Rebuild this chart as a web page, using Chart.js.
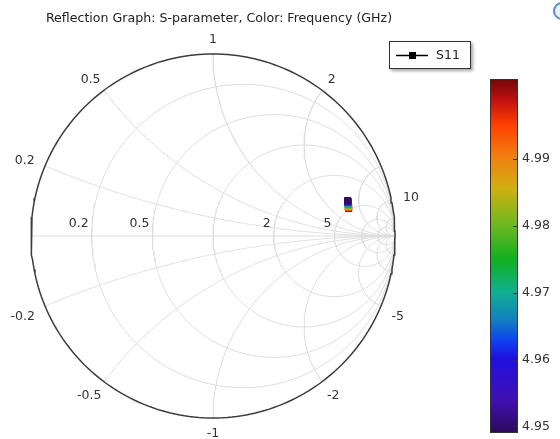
<!DOCTYPE html>
<html>
<head>
<meta charset="utf-8">
<script src="https://cdn.jsdelivr.net/npm/chart.js@4.4.0/dist/chart.umd.min.js"></script>
<style>
  html, body { margin: 0; padding: 0; background: #fff; }
  #wrap { position: relative; width: 560px; height: 439px; }
</style>
</head>
<body>
<div id="wrap"><canvas id="smith" width="560" height="439"></canvas></div>
<script>
// DATA
const frequencies = [4.95, 4.955, 4.96, 4.965, 4.97, 4.975, 4.98, 4.985, 4.99, 4.995, 5.0];
const s11Real = [0.740, 0.741, 0.741, 0.742, 0.742, 0.743, 0.743, 0.744, 0.744, 0.744, 0.745];
const s11Imag = [0.194, 0.191, 0.187, 0.184, 0.179, 0.175, 0.170, 0.166, 0.161, 0.157, 0.152];
const resistanceGrid = [0.2, 0.5, 1, 2, 5, 10, 20];
const reactanceGrid = [0.2, 0.5, 1, 2, 5, 10, 20];
const resistanceLabels = [0.2, 0.5, 2, 5];
const reactanceLabels = [0.2, 0.5, 1, 2, 10, -0.2, -0.5, -1, -2, -5];
const colorTicks = [4.95, 4.96, 4.97, 4.98, 4.99];
const colorRange = [4.949, 5.002];

const FONT = '"DejaVu Sans", "Liberation Sans", sans-serif';
const GRID_COLOR = '#dddddd';

// rainbow colormap, bottom (0) to top (1)
const rainbowStops = [
    [0.00, [42, 10, 90]],
    [0.09, [64, 16, 176]],
    [0.21, [32, 16, 224]],
    [0.26, [16, 64, 240]],
    [0.32, [16, 128, 192]],
    [0.40, [16, 176, 144]],
    [0.49, [16, 176, 32]],
    [0.59, [112, 184, 32]],
    [0.69, [208, 176, 16]],
    [0.78, [240, 128, 16]],
    [0.87, [255, 64, 0]],
    [0.94, [192, 16, 16]],
    [1.00, [112, 8, 8]]
];

function rainbow(t) {
    t = Math.max(0, Math.min(1, t));
    for (let i = 1; i < rainbowStops.length; i++) {
        const [t1, c1] = rainbowStops[i];
        const [t0, c0] = rainbowStops[i - 1];
        if (t <= t1) {
            const k = (t - t0) / (t1 - t0);
            const c = c0.map((v, j) => Math.round(v + (c1[j] - v) * k));
            return `rgb(${c[0]},${c[1]},${c[2]})`;
        }
    }
    return 'rgb(112,8,8)';
}

function freqColor(f) {
    return rainbow((f - colorRange[0]) / (colorRange[1] - colorRange[0]));
}

// Smith chart grid geometry
function gammaOf(r, x) {
    const d = (r + 1) * (r + 1) + x * x;
    return { x: (r * r - 1 + x * x) / d, y: (2 * x) / d };
}

function resistanceCircle(r) {
    const c = r / (1 + r), rad = 1 / (1 + r);
    const pts = [];
    for (let k = 0; k <= 240; k++) {
        const a = 2 * Math.PI * k / 240;
        pts.push({ x: c + rad * Math.cos(a), y: rad * Math.sin(a) });
    }
    return pts;
}

function reactanceArc(x) {
    const pts = [];
    for (let k = 0; k <= 300; k++) {
        const th = (Math.PI / 2) * k / 300;
        if (k === 300) { pts.push({ x: 1, y: 0 }); break; }
        pts.push(gammaOf(Math.tan(th), x));
    }
    return pts;
}

function gridSet(data, color, width, order) {
    return {
        data: data, showLine: true, borderColor: color, borderWidth: width,
        pointRadius: 0, fill: false, order: order, clip: false, tension: 0
    };
}

// S11 points, highest frequency first so the low-frequency markers end up on top
const s11Order = frequencies.map((f, i) => i).reverse();
const s11Colors = s11Order.map(i => freqColor(frequencies[i]));

const datasets = [{
    label: 'S11',
    data: s11Order.map(i => ({ x: s11Real[i], y: s11Imag[i] })),
    showLine: true,
    borderWidth: 1,
    segment: { borderColor: ctx => s11Colors[ctx.p0DataIndex] },
    pointStyle: 'rect',
    pointRadius: 4.5,
    pointBorderWidth: 1,
    pointBackgroundColor: s11Colors,
    pointBorderColor: s11Colors,
    order: 0,
    clip: false
}];

resistanceGrid.forEach(r => datasets.push(gridSet(resistanceCircle(r), GRID_COLOR, 1, 5)));
reactanceGrid.forEach(x => {
    datasets.push(gridSet(reactanceArc(x), GRID_COLOR, 1, 5));
    datasets.push(gridSet(reactanceArc(-x), GRID_COLOR, 1, 5));
});
datasets.push(gridSet([{ x: -1, y: 0 }, { x: 1, y: 0 }], GRID_COLOR, 1, 5));
datasets.push(gridSet(resistanceCircle(0), '#3c3c3c', 1.5, 1));

// Decorations: title, grid labels, legend, colour bar
const decorPlugin = {
    id: 'decor',
    afterDatasetsDraw(chart) {
        const ctx = chart.ctx;
        const sx = chart.scales.x, sy = chart.scales.y;
        ctx.save();

        // title
        ctx.fillStyle = '#222';
        ctx.font = '12.6px ' + FONT;
        ctx.textAlign = 'center';
        ctx.textBaseline = 'middle';
        ctx.fillText('Reflection Graph: S-parameter, Color: Frequency (GHz)', 219, 19);

        ctx.font = '12.5px ' + FONT;
        ctx.fillStyle = '#333';

        // resistance labels on the real axis
        ctx.textAlign = 'right';
        resistanceLabels.forEach(r => {
            const px = sx.getPixelForValue((r - 1) / (r + 1)) - 3;
            ctx.fillText(String(r), px, sy.getPixelForValue(0) - 12);
        });

        // reactance labels round the rim
        ctx.textAlign = 'center';
        reactanceLabels.forEach(v => {
            const g = gammaOf(0, v);
            const px = sx.getPixelForValue(g.x), py = sy.getPixelForValue(g.y);
            const w = ctx.measureText(String(v)).width;
            const ax = px + 12 * g.x, ay = py - 12 * g.y;
            const extra = g.y < 0 ? 6 * (1 - Math.abs(g.y)) : 0;
            ctx.fillText(String(v), ax + g.x * w / 2, ay - g.y * 3 + 1 + extra);
        });

        // legend box
        ctx.save();
        ctx.shadowColor = 'rgba(0,0,0,0.35)';
        ctx.shadowBlur = 3;
        ctx.shadowOffsetX = 2;
        ctx.shadowOffsetY = 2;
        ctx.fillStyle = '#fff';
        ctx.fillRect(389, 41, 82, 28);
        ctx.restore();
        ctx.strokeStyle = '#333';
        ctx.lineWidth = 1;
        ctx.strokeRect(389.5, 41.5, 81, 27);
        ctx.beginPath();
        ctx.moveTo(396, 55.5);
        ctx.lineTo(428, 55.5);
        ctx.lineWidth = 1.5;
        ctx.strokeStyle = '#000';
        ctx.stroke();
        ctx.fillStyle = '#000';
        ctx.fillRect(409, 52, 7, 7);
        ctx.fillStyle = '#222';
        ctx.textAlign = 'left';
        ctx.fillText('S11', 436, 56);

        // colour bar
        const top = 79, bottom = 433, left = 490, right = 518;
        const grad = ctx.createLinearGradient(0, bottom, 0, top);
        rainbowStops.forEach(s => grad.addColorStop(s[0], rainbow(s[0])));
        ctx.fillStyle = grad;
        ctx.fillRect(left, top, right - left, bottom - top);
        ctx.strokeStyle = '#333';
        ctx.lineWidth = 1;
        ctx.strokeRect(left + 0.5, top + 0.5, right - left - 1, bottom - top - 1);
        ctx.fillStyle = '#333';
        ctx.textAlign = 'left';
        colorTicks.forEach(v => {
            const ty = bottom - (v - colorRange[0]) / (colorRange[1] - colorRange[0]) * (bottom - top);
            ctx.beginPath();
            ctx.moveTo(513, Math.round(ty) + 0.5);
            ctx.lineTo(518, Math.round(ty) + 0.5);
            ctx.strokeStyle = '#333';
            ctx.stroke();
            ctx.fillText(v.toFixed(2), 522, Math.min(ty, 429));
        });

        // cut-off toolbar icon in the corner
        ctx.beginPath();
        ctx.arc(562, 11, 8, 0, 2 * Math.PI);
        ctx.fillStyle = '#e8f0f8';
        ctx.fill();
        ctx.strokeStyle = '#5b8fc0';
        ctx.lineWidth = 2;
        ctx.stroke();

        ctx.restore();
    }
};

new Chart(document.getElementById('smith').getContext('2d'), {
    type: 'scatter',
    data: { datasets: datasets },
    options: {
        responsive: false,
        animation: false,
        events: [],
        layout: { padding: { left: 31, right: 165, top: 54, bottom: 21 } },
        scales: {
            x: { type: 'linear', min: -1, max: 1, display: false },
            y: { type: 'linear', min: -1, max: 1, display: false }
        },
        plugins: {
            legend: { display: false },
            tooltip: { enabled: false },
            title: { display: false }
        }
    },
    plugins: [decorPlugin]
});
</script>
</body>
</html>
